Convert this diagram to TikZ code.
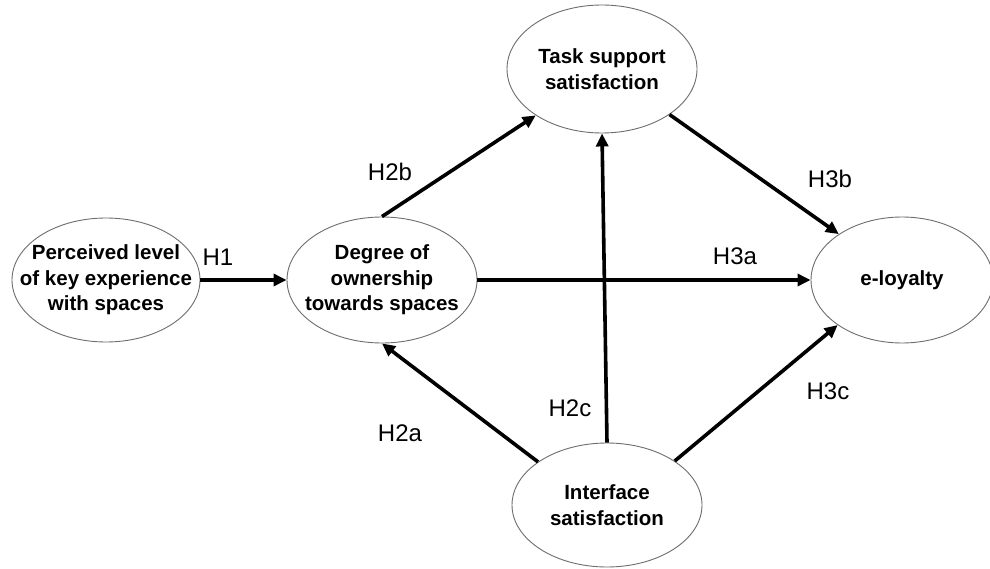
\documentclass[tikz,border=0pt]{standalone}
\usepackage{fontspec}
\setmainfont{Liberation Sans}
\usetikzlibrary{arrows.meta,shapes.geometric}
\definecolor{ellgray}{RGB}{110,110,110}
\begin{document}
\begin{tikzpicture}[x=1pt,y=-1pt,
  ell/.style={draw=ellgray, line width=0.9pt, ellipse, inner sep=0pt, fill=white},
  txt/.style={align=center, inner sep=0pt, font=\fontsize{20.5}{25.5}\selectfont\bfseries},
  hlab/.style={inner sep=0pt, font=\fontsize{24}{28}\selectfont},
  arr/.style={line width=3.6pt, -{Triangle[length=13pt,width=12pt]}}]
\fill[white] (0,0) rectangle (990,569);
\useasboundingbox (0,0) rectangle (990,569);
% ellipses
\node[ell, minimum width=188pt, minimum height=124pt] (perc) at (106,280) {};
\node[ell, minimum width=190pt, minimum height=126pt] (deg)  at (382,280) {};
\node[ell, minimum width=190pt, minimum height=128pt] (task) at (602,69) {};
\node[ell, minimum width=182pt, minimum height=126pt] (loy)  at (902,280) {};
\node[ell, minimum width=190pt, minimum height=124pt] (int)  at (607,505) {};
% texts
\node[txt] (percT) at (perc) {Perceived level\\of key experience\\with spaces};
\node[txt] (degT) at (deg) {Degree of\\ownership\\towards spaces};
\node[txt] (taskT) at (task) {Task support\\satisfaction};
\node[txt] (loyT) at (loy) {e-loyalty};
\node[txt] (intT) at (int) {Interface\\satisfaction};
% arrows
\draw[arr] (perc.east) -- (deg.west);
\draw[arr] (deg.north) -- (task.215);
\draw[arr] (deg.east) -- (loy.west);
\draw[arr] (task.326) -- (loy.144);
\draw[arr] (int.north) -- (task.south);
\draw[arr] (int.148) -- (deg.south);
\draw[arr] (int.33) -- (loy.215);
% labels
\node[hlab] (h1)  at (218,257) {H1};
\node[hlab] (h2b) at (390,172) {H2b};
\node[hlab] (h3b) at (830,179) {H3b};
\node[hlab] (h3a) at (735,256) {H3a};
\node[hlab] (h2c) at (570,408) {H2c};
\node[hlab] (h2a) at (400,433) {H2a};
\node[hlab] (h3c) at (828,391) {H3c};
\end{tikzpicture}
\end{document}
